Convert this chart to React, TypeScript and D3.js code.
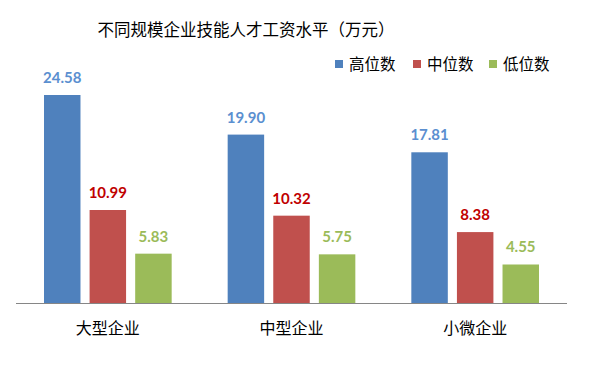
import React, { useEffect, useRef } from "react";
import * as d3 from "d3";

const categories = ["大型企业", "中型企业", "小微企业"];
const seriesNames = ["高位数", "中位数", "低位数"];
const highValues = [24.58, 19.9, 17.81];
const midValues = [10.99, 10.32, 8.38];
const lowValues = [5.83, 5.75, 4.55];

const barColors = ["#4F81BD", "#C0504D", "#9BBB59"];
const labelColors = ["#5B8FD0", "#C00000", "#9BBB59"];

const W = 612;
const H = 374;
const cjk = "'Noto Sans CJK SC', 'Noto Sans', sans-serif";
const num = "Lato, 'Open Sans', sans-serif";

const App: React.FC = () => {
  const svgRef = useRef<SVGSVGElement>(null);

  useEffect(() => {
    if (!svgRef.current) return;
    const svg = d3.select(svgRef.current);
    svg.selectAll("*").remove();

    const series = [highValues, midValues, lowValues];
    const baseY = 303;

    const x0 = d3.scaleBand<string>().domain(categories).range([16, 567]).paddingInner(0).paddingOuter(0);
    const x1 = d3
      .scaleBand<string>()
      .domain(seriesNames)
      .range([28, x0.bandwidth() - 28])
      .paddingInner(0.2)
      .paddingOuter(0);
    const y = d3.scaleLinear().domain([0, 24.58]).range([baseY, 95]);

    svg.append("rect").attr("width", W).attr("height", H).attr("fill", "#fff");

    // title
    svg
      .append("text")
      .attr("x", 246)
      .attr("y", 36)
      .attr("text-anchor", "middle")
      .attr("font-family", cjk)
      .attr("font-size", 16.5)
      .attr("fill", "#000")
      .text("不同规模企业技能人才工资水平（万元）");

    // legend
    const legendX = [335, 413, 489];
    seriesNames.forEach((name, i) => {
      const lg = svg.append("g").attr("transform", `translate(${legendX[i]},0)`);
      lg.append("rect").attr("x", 0).attr("y", 60).attr("width", 8).attr("height", 8).attr("fill", barColors[i]);
      lg.append("text")
        .attr("x", 14)
        .attr("y", 70)
        .attr("font-family", cjk)
        .attr("font-size", 15.5)
        .attr("fill", "#000")
        .text(name);
    });

    // bars
    categories.forEach((cat, ci) => {
      const g = svg.append("g").attr("transform", `translate(${x0(cat)},0)`);
      seriesNames.forEach((s, si) => {
        const v = series[si][ci];
        g.append("rect")
          .attr("x", x1(s)!)
          .attr("y", y(v))
          .attr("width", x1.bandwidth())
          .attr("height", baseY - y(v))
          .attr("fill", barColors[si]);
        g.append("text")
          .attr("x", x1(s)! + x1.bandwidth() / 2)
          .attr("y", y(v) - 12)
          .attr("text-anchor", "middle")
          .attr("font-family", num)
          .attr("font-weight", "bold")
          .attr("font-size", 15)
          .attr("fill", labelColors[si])
          .text(v.toFixed(2));
      });
    });

    // axis
    const axis = svg.append("g").attr("transform", `translate(0,${baseY})`).call(d3.axisBottom(x0).tickSize(0).tickPadding(20));
    axis.select(".domain").attr("stroke", "#868686").attr("stroke-width", 1).attr("d", `M16,0.5H567`);
    axis
      .selectAll("text")
      .attr("font-family", cjk)
      .attr("font-size", 16)
      .attr("fill", "#000");
  }, []);

  return (
    <svg
      ref={svgRef}
      width={W}
      height={H}
      style={{ position: "absolute", left: 0, top: 0, display: "block" }}
    />
  );
};

export default App;
